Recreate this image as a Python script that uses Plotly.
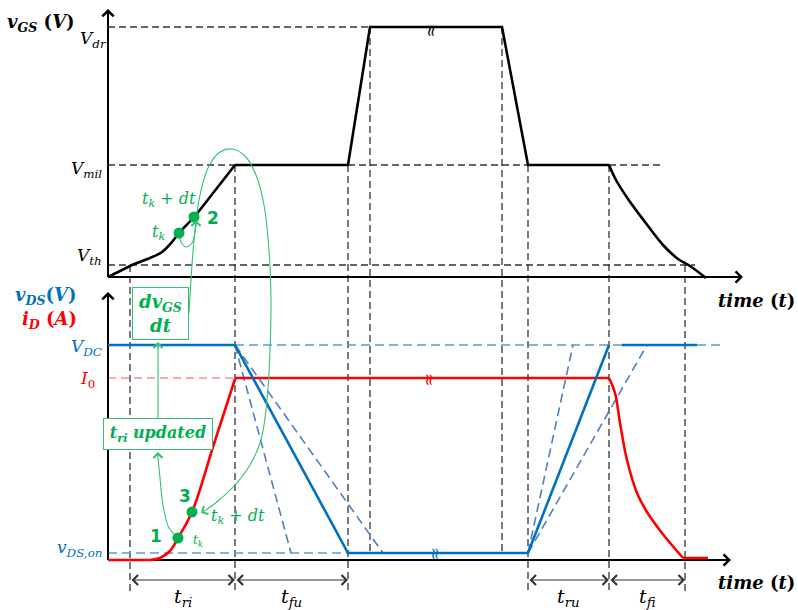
import plotly.graph_objects as go

# ---------------- values (sketch units) ----------------
# levels (vertical positions, sketch scale, downward)
V_DR, V_MIL, V_TH, ZERO_TOP = 27, 165, 265, 277
V_DC, I_0, V_DS_ON, ZERO_BOT = 345, 378, 553, 560
# event instants on the time axis
T_0, T_TH, T_2, T_3, T_4, T_5, T_6, T_7, T_8 = 108, 130, 235, 348, 370, 502, 528, 609, 685

# gate-source voltage
vgs_lin_t = [108, 132, 150]
vgs_lin_v = [277, 265, 258]
vgs_rise_t = [150, 162, 172, 179, 194, 210, 235]
vgs_rise_v = [258, 252, 242, 233, 217, 197, 165]
vgs_mid_t = [235, 348, 370, 502, 528, 609]
vgs_mid_v = [165, 165, 27, 27, 165, 165]
vgs_fall_t = [609, 616, 628, 645, 663, 678, 690, 706]
vgs_fall_v = [165, 180, 199, 222, 245, 259, 266, 278]

# drain current
id_base_t = [108, 150]
id_base_v = [560, 560]
id_rise_t = [150, 160, 170, 178, 192, 213, 235]
id_rise_v = [560, 558, 551, 538, 512, 447, 379]
id_flat_t = [235, 609]
id_flat_v = [378, 378]
id_fall_t = [609, 615, 620, 627, 637, 647, 662, 683]
id_fall_v = [378, 393, 423, 460, 493, 512, 533, 558]
id_tail_t = [683, 708]
id_tail_v = [558, 558]

# drain-source voltage
vds_t = [108, 235, 348, 528, 609]
vds_v = [345, 345, 553, 553, 345]
vds_end_t = [622, 697]
vds_end_v = [345, 345]
# alternative (dashed) slopes
vds_alt_fall_end = [291, 383]
vds_alt_rise_end = [573, 647]

# green markers (operating points)
dot_top_t = [179, 194]
dot_top_v = [233, 217]
dot_bot_t = [178, 192]
dot_bot_v = [538, 512]

# green feedback paths
loop_small_t = [179, 181, 186, 192, 195, 196]
loop_small_v = [233, 242, 247, 243, 232, 224]
loop_big_t = [189, 191, 194, 199, 208, 220, 232, 245, 256, 264, 269, 271, 270, 267, 261, 250, 235, 218, 206]
loop_big_v = [313, 280, 240, 200, 168, 152, 149, 156, 175, 205, 250, 300, 350, 400, 440, 465, 485, 501, 510]
path_up_t = [178, 169, 163, 160, 158]
path_up_v = [537, 528, 505, 478, 458]

# interval spans
span_t0 = [130, 235, 528, 609]
span_t1 = [235, 348, 609, 685]
span_labels = ["t<sub>ri</sub>", "t<sub>fu</sub>", "t<sub>ru</sub>", "t<sub>fi</sub>"]
SPAN_Y = 580

# ---------------- styles ----------------
BLACK = "#000000"
DGRAY = "#333333"
BLUE = "#0070C0"
RED = "#FF0000"
GREEN = "#00B050"
LGREEN = "#33C070"
LBLUE = "#5B9BD5"
MBLUE = "#4F7EC4"
PINK = "#FF8C8C"
SERIF = "DejaVu Serif"
DASH = "7px,4px"

fig = go.Figure()


def line(x, y, color, width, dash=None, shape="linear"):
    fig.add_trace(go.Scatter(x=x, y=y, mode="lines", hoverinfo="skip",
                             line=dict(color=color, width=width, dash=dash, shape=shape)))


# ---- black dashed guides ----
hguides = [([T_0, T_4], V_DR), ([T_0, T_2], V_MIL), ([T_3, T_6], V_MIL),
           ([T_7, 664], V_MIL), ([T_0, 695], V_TH)]
for xs, lv in hguides:
    line(xs, [lv, lv], DGRAY, 1.3, DASH)
vguides = [(T_TH, V_TH, 594), (T_2, V_MIL, 594), (T_3, V_MIL, 594), (T_4, V_DR, V_DS_ON),
           (T_5, V_DR, V_DS_ON), (T_6, V_MIL, 594), (T_7, V_MIL, 594), (T_8, V_TH, 594)]
for xv, y0, y1 in vguides:
    line([xv, xv], [y0, y1], DGRAY, 1.3, DASH)

# ---- coloured dashed guides ----
line([T_2, 723], [V_DC, V_DC], LBLUE, 1.5, "9px,5px")
line([T_0, T_3], [V_DS_ON, V_DS_ON], LBLUE, 1.5, "9px,5px")
line([T_0, T_2], [I_0, I_0], PINK, 1.5, "8px,5px")
for xe in vds_alt_fall_end:
    line([T_2, xe], [V_DC, V_DS_ON], MBLUE, 1.6, "9px,5px")
for xe in vds_alt_rise_end:
    line([T_6, xe], [V_DS_ON, V_DC], MBLUE, 1.6, "9px,5px")

# ---- axes ----
line([T_0, T_0], [ZERO_TOP, 12], BLACK, 2)
line([T_0, 740], [ZERO_TOP, ZERO_TOP], BLACK, 2)
line([T_0, T_0], [ZERO_BOT, 295], BLACK, 2)
line([T_0, 728], [ZERO_BOT, ZERO_BOT], BLACK, 2)

# ---- waveforms ----
line(vgs_lin_t, vgs_lin_v, BLACK, 2.6)
line(vgs_rise_t, vgs_rise_v, BLACK, 2.6, shape="spline")
line(vgs_mid_t, vgs_mid_v, BLACK, 2.6)
line(vgs_fall_t, vgs_fall_v, BLACK, 2.6, shape="spline")

line(id_base_t, id_base_v, RED, 2.6)
line(id_rise_t, id_rise_v, RED, 2.6, shape="spline")
line(id_flat_t, id_flat_v, RED, 2.6)
line(id_fall_t, id_fall_v, RED, 2.6, shape="spline")
line(id_tail_t, id_tail_v, RED, 2.6)

line(vds_t, vds_v, BLUE, 2.6)
line(vds_end_t, vds_end_v, BLUE, 2.6)

# ---- green paths ----
line(loop_small_t, loop_small_v, LGREEN, 1.1, shape="spline")
line(loop_big_t, loop_big_v, LGREEN, 1.1, shape="spline")
line(path_up_t, path_up_v, LGREEN, 1.1, shape="spline")
line([158, 158], [418, 345], LGREEN, 1.1)

fig.add_trace(go.Scatter(x=dot_top_t + dot_bot_t, y=dot_top_v + dot_bot_v, mode="markers",
                         hoverinfo="skip", marker=dict(color=GREEN, size=11)))

ann = []


def arrow(x, y, ax, ay, color, width, size, head=4, both=False):
    d = dict(x=x, y=y, ax=ax, ay=ay, xref="x", yref="y", axref="x", ayref="y",
             text="", showarrow=True, arrowhead=head, arrowsize=size, arrowwidth=width,
             arrowcolor=color, standoff=0, startstandoff=0)
    if both:
        d.update(arrowside="end+start", startarrowhead=head, startarrowsize=size)
    ann.append(d)


# axis arrowheads
arrow(T_0, 9, T_0, 20, BLACK, 2, 1.1)
arrow(743, ZERO_TOP, 730, ZERO_TOP, BLACK, 2, 1.1)
arrow(T_0, 292, T_0, 304, BLACK, 2, 1.1)
arrow(731, ZERO_BOT, 718, ZERO_BOT, BLACK, 2, 1.1)

# span arrows
for a, b in zip(span_t0, span_t1):
    arrow(b, SPAN_Y, a, SPAN_Y, DGRAY, 1.2, 1.6, both=True)

# green arrowheads
arrow(196, 220, 196, 228, LGREEN, 1.1, 1.6)
arrow(201, 513, 208, 509, LGREEN, 1.1, 1.6)
arrow(158, 452, 158, 460, LGREEN, 1.1, 1.6)
arrow(158, 342, 158, 350, LGREEN, 1.1, 1.6)


def txt(x, y, s, color=BLACK, size=18, xanchor="center", yanchor="middle", family=SERIF, **kw):
    d = dict(x=x, y=y, xref="x", yref="y", text=s, showarrow=False, xanchor=xanchor,
             yanchor=yanchor, font=dict(family=family, size=size, color=color))
    d.update(kw)
    ann.append(d)


# axis titles
txt(77, 23, "<b><i>v</i><sub><i>GS</i></sub> (<i>V</i>)</b>", size=18, xanchor="right")
txt(79, 296, "<b><i>v</i><sub><i>DS</i></sub>(<i>V</i>)</b>", BLUE, 18, xanchor="right")
txt(79, 320, "<b><i>i</i><sub><i>D</i></sub> (<i>A</i>)</b>", RED, 18, xanchor="right")
txt(797, 300, "<b><i>time</i> (<i>t</i>)</b>", size=18, xanchor="right")
txt(797, 582, "<b><i>time</i> (<i>t</i>)</b>", size=18, xanchor="right")

# level labels
txt(78, 39, "<i>V</i><sub><i>dr</i></sub>", size=17, xanchor="left")
txt(104, 169, "<i>V</i><sub><i>mil</i></sub>", size=17, xanchor="right")
txt(104, 256, "<i>V</i><sub><i>th</i></sub>", size=17, xanchor="right")
txt(104, 347, "<i>V</i><sub><i>DC</i></sub>", BLUE, 17, xanchor="right")
txt(97, 379, "<i>I</i><sub>0</sub>", RED, 17, xanchor="right")
txt(104, 548, "<i>v</i><sub><i>DS,on</i></sub>", BLUE, 17, xanchor="right")

# span labels
for a, b, s in zip(span_t0, span_t1, span_labels):
    txt((a + b) / 2, 597, "<i>" + s.replace("<sub>", "<sub><i>").replace("</sub>", "</i></sub>") + "</i>", size=19)

# break marks
txt(432, 30, "≈", BLACK, 16, textangle=90, family="DejaVu Sans")
txt(430, 379, "≈", RED, 16, textangle=90, family="DejaVu Sans")
txt(436, 553, "≈", BLUE, 16, textangle=90, family="DejaVu Sans")

# green labels
txt(169, 199, "<i>t</i><sub><i>k</i></sub> + <i>dt</i>", GREEN, 16)
txt(158, 232, "<i>t</i><sub><i>k</i></sub>", GREEN, 16)
txt(213, 218, "<b>2</b>", GREEN, 17, family="DejaVu Sans")
txt(185, 496, "<b>3</b>", GREEN, 17, family="DejaVu Sans")
txt(156, 536, "<b>1</b>", GREEN, 17, family="DejaVu Sans")
txt(198, 541, "<i>t</i><sub><i>k</i></sub>", GREEN, 12)
txt(238, 516, "<i>t</i><sub><i>k</i></sub> + <i>dt</i>", GREEN, 16)

# boxes
txt(160, 313, "<b><i>dv</i><sub><i>GS</i></sub></b><br><b><i>dt</i></b>", GREEN, 18,
    width=53, height=49, bordercolor=LGREEN, borderwidth=1, borderpad=1, bgcolor="white")
txt(158, 434, "<b><i>t</i><sub><i>ri</i></sub> <i>updated</i></b>", GREEN, 16,
    width=106, height=28, bordercolor=LGREEN, borderwidth=1, borderpad=1, bgcolor="white")

fig.update_layout(
    width=798, height=610, margin=dict(l=0, r=0, t=0, b=0),
    paper_bgcolor="white", plot_bgcolor="white", showlegend=False,
    xaxis=dict(range=[0, 798], visible=False, fixedrange=True),
    yaxis=dict(range=[610, 0], visible=False, fixedrange=True),
    annotations=ann,
)
# fraction bar inside the dv/dt box (drawn above the box annotation)
fig.add_shape(type="line", xref="x", yref="y", x0=T_TH + 12, x1=T_TH + 52, y0=315, y1=315,
              line=dict(color=GREEN, width=1.3), layer="above")

fig.write_html("out.html", config={"displayModeBar": False},
               post_script="document.body.style.margin='0px';document.body.style.overflow='hidden';")
